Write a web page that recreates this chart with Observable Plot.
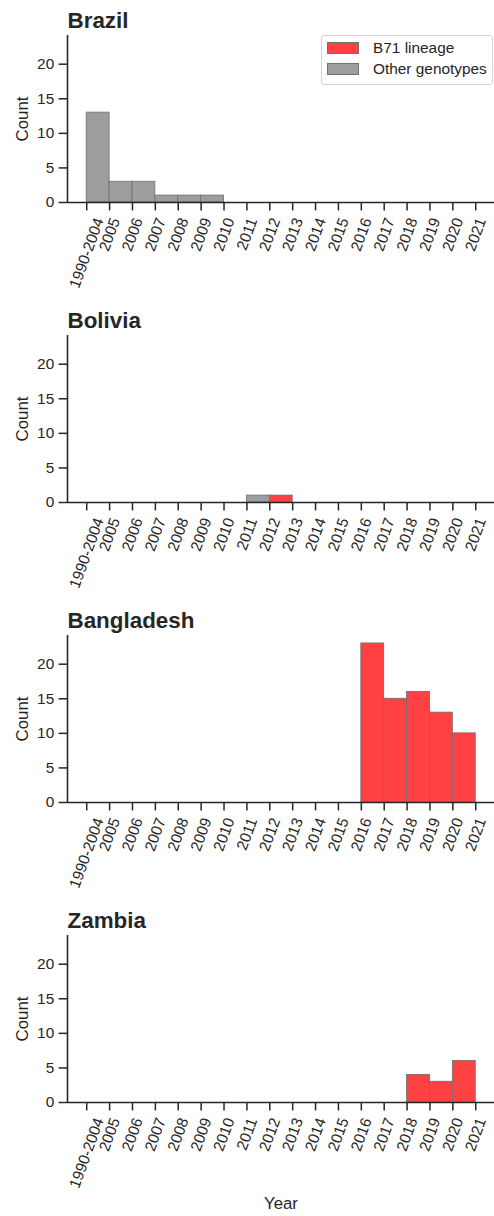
<!DOCTYPE html>
<html><head><meta charset="utf-8">
<script src="https://cdn.jsdelivr.net/npm/d3@7"></script>
<script src="https://cdn.jsdelivr.net/npm/@observablehq/plot@0.6"></script>
<style>
body{margin:0;background:#fff;font-family:"Liberation Sans",Arial,sans-serif;color:#262626;}
#wrap{position:relative;width:494px;}
#wrap svg{display:block;}
.legend{position:absolute;left:321px;top:35px;width:170px;height:48px;border:1px solid #d6d6d6;border-radius:3px;background:rgba(255,255,255,0.85);font-size:15.4px;}
.legend .row{position:absolute;left:5px;height:18px;display:flex;align-items:center;white-space:nowrap;}
.legend .sw{width:30px;height:10px;border:1px solid #707070;margin-right:14px;}
</style></head><body><div id="wrap"></div>
<script>
const yearLabels = ["1990-2004","2005","2006","2007","2008","2009","2010","2011","2012","2013","2014","2015","2016","2017","2018","2019","2020","2021"];
const countries = ["Brazil","Bolivia","Bangladesh","Zambia"];
const seriesNames = ["B71 lineage","Other genotypes"];
const seriesColors = ["#ff4143","#9d9d9d"];
// counts per bin (bin i lies between yearLabels[i] and yearLabels[i+1])
const brazilB71       = [0,0,0,0,0,0,0,0,0,0,0,0,0,0,0,0,0];
const brazilOther     = [13,3,3,1,1,1,0,0,0,0,0,0,0,0,0,0,0];
const boliviaB71      = [0,0,0,0,0,0,0,0,1,0,0,0,0,0,0,0,0];
const boliviaOther    = [0,0,0,0,0,0,0,1,0,0,0,0,0,0,0,0,0];
const bangladeshB71   = [0,0,0,0,0,0,0,0,0,0,0,0,23,15,16,13,10];
const bangladeshOther = [0,0,0,0,0,0,0,0,0,0,0,0,0,0,0,0,0];
const zambiaB71       = [0,0,0,0,0,0,0,0,0,0,0,0,0,0,4,3,6];
const zambiaOther     = [0,0,0,0,0,0,0,0,0,0,0,0,0,0,0,0,0];
const yTicks = [0,5,10,15,20];

const b71Series = [brazilB71, boliviaB71, bangladeshB71, zambiaB71];
const otherSeries = [brazilOther, boliviaOther, bangladeshOther, zambiaOther];
const xDomain = [-0.84, 17.82];
const yDomain = [0, 24.15];
const ink = "#262626";
const tickFont = 15.4, labelFont = 16.8, titleFont = 22.4;
const wrap = document.getElementById("wrap");

countries.forEach((country, k) => {
  const rows = [];
  [b71Series[k], otherSeries[k]].forEach((arr, s) => {
    arr.forEach((c, i) => { if (c > 0) rows.push({bin: i, count: c, group: seriesNames[s]}); });
  });
  const idx = yearLabels.map((_, i) => i);
  const last = k === countries.length - 1;
  const marks = [
    Plot.rect(rows, {x1: d => d.bin, x2: d => d.bin + 1, y1: 0, y2: d => d.count, fill: "group", stroke: "#6e6e6e", strokeWidth: 0.8}),
    Plot.ruleY([0], {stroke: ink, strokeWidth: 1.6}),
    Plot.ruleX([xDomain[0]], {stroke: ink, strokeWidth: 1.6}),
    Plot.axisY({ticks: yTicks, tickSize: 8.4, tickPadding: 4.9, label: null, fontSize: tickFont, strokeWidth: 1.5}),
    Plot.axisX({ticks: idx, tickSize: 8.4, tickFormat: () => "", label: null, strokeWidth: 1.5}),
    Plot.text(idx.slice(1), {x: i => i, y: 0, text: i => yearLabels[i], rotate: -70, textAnchor: "end", lineAnchor: "middle", dx: 5.9, dy: 16, fontSize: tickFont, fill: ink}),
    Plot.text(idx.slice(0, 1), {x: i => i, y: 0, text: i => yearLabels[i], rotate: -70, textAnchor: "end", lineAnchor: "middle", dx: 12.6, dy: 16, fontSize: tickFont, fill: ink}),
    Plot.text([country], {frameAnchor: "top-left", textAnchor: "start", lineAnchor: "middle", dx: 0, dy: -15, fontSize: titleFont, fontWeight: "bold", fill: ink}),
    Plot.text(["Count"], {frameAnchor: "left", textAnchor: "middle", lineAnchor: "middle", rotate: -90, dx: -45, fontSize: labelFont, fill: ink})
  ];
  if (last) marks.push(Plot.text(["Year"], {frameAnchor: "bottom", textAnchor: "middle", lineAnchor: "middle", dy: 101, fontSize: labelFont, fill: ink}));
  const chart = Plot.plot({
    width: 494,
    height: last ? 316 : 300,
    marginLeft: 67, marginRight: 0, marginTop: 35, marginBottom: last ? 114 : 98,
    style: {fontFamily: '"Liberation Sans", Arial, sans-serif', fontSize: tickFont + "px", color: ink, background: "white"},
    x: {domain: xDomain},
    y: {domain: yDomain},
    color: {domain: seriesNames, range: seriesColors},
    marks
  });
  wrap.appendChild(chart);
});

// legend on first panel
const lg = document.createElement("div");
lg.className = "legend";
seriesNames.forEach((n, s) => {
  const r = document.createElement("div");
  r.className = "row";
  r.style.top = (2.5 + s * 21) + "px";
  const sw = document.createElement("div");
  sw.className = "sw";
  sw.style.background = seriesColors[s];
  const t = document.createElement("span");
  t.textContent = n;
  r.appendChild(sw); r.appendChild(t);
  lg.appendChild(r);
});
wrap.appendChild(lg);
</script></body></html>
